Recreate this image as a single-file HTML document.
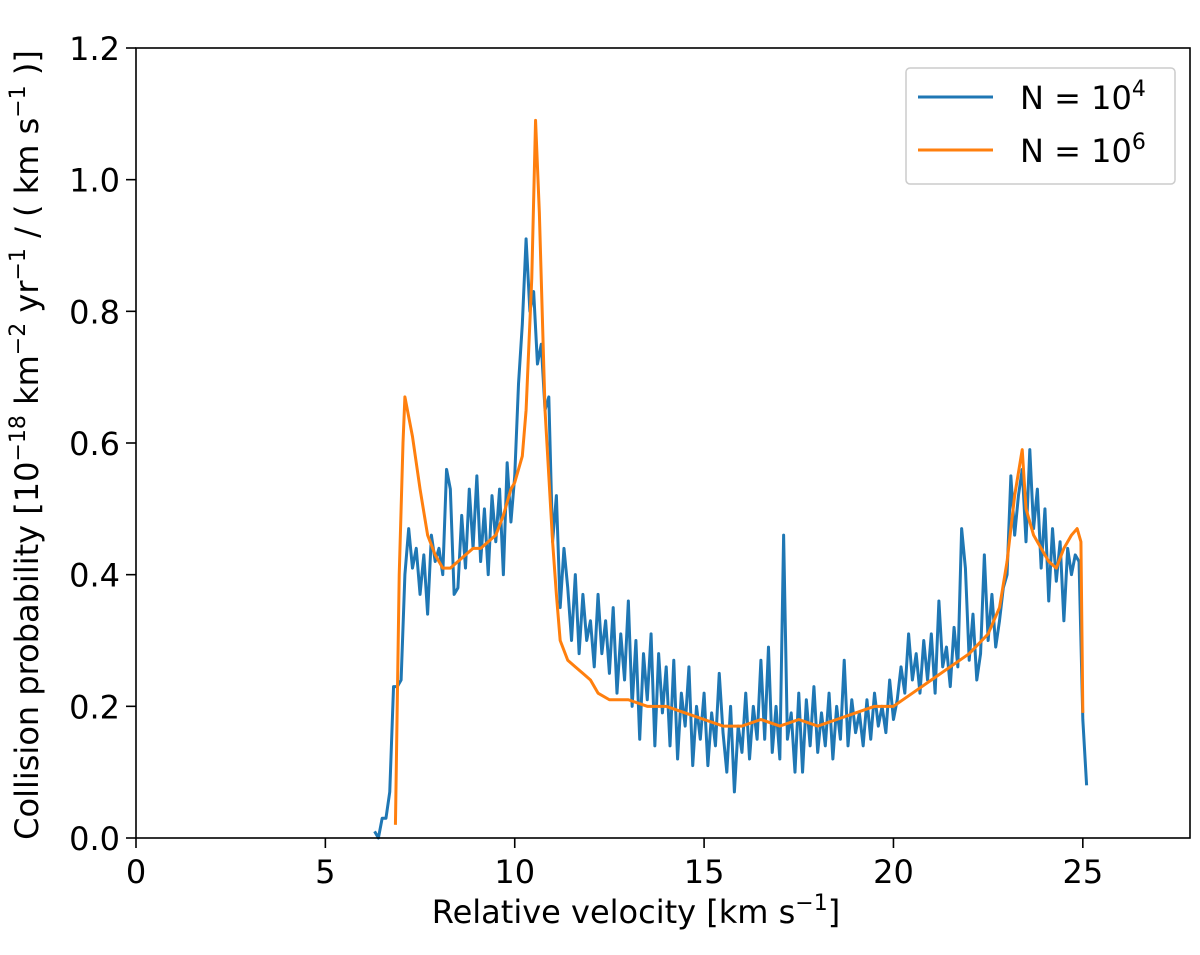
<!DOCTYPE html>
<html><head><meta charset="utf-8"><style>
body{margin:0;background:#fff;}
svg text{font-family:"DejaVu Sans","Liberation Sans",sans-serif;fill:#000;}
</style></head><body>
<svg id="chart" width="1200" height="950" viewBox="0 0 1200 950" xmlns="http://www.w3.org/2000/svg">
<g id="plot"></g>
</svg>
<script>
const xTicks=[0,5,10,15,20,25];
const yTicks=[0.0,0.2,0.4,0.6,0.8,1.0,1.2];
const yTickLabels=["0.0","0.2","0.4","0.6","0.8","1.0","1.2"];
const blueStart=6.3, blueStep=0.1;
const blueValues=[0.01,0.0,0.03,0.03,0.07,0.23,0.23,0.24,0.40,0.47,0.41,0.44,0.37,0.43,0.34,0.46,0.42,0.44,0.40,0.56,0.53,0.37,0.38,0.49,0.41,0.53,0.44,0.55,0.42,0.50,0.40,0.52,0.45,0.53,0.40,0.57,0.48,0.55,0.69,0.78,0.91,0.80,0.83,0.72,0.75,0.65,0.67,0.45,0.52,0.35,0.44,0.38,0.30,0.40,0.28,0.37,0.30,0.33,0.26,0.37,0.28,0.33,0.25,0.35,0.22,0.31,0.24,0.36,0.20,0.30,0.15,0.28,0.21,0.31,0.14,0.28,0.19,0.26,0.14,0.27,0.12,0.22,0.17,0.26,0.11,0.20,0.15,0.22,0.11,0.19,0.14,0.25,0.16,0.10,0.20,0.07,0.17,0.13,0.22,0.12,0.20,0.15,0.27,0.15,0.29,0.13,0.20,0.12,0.46,0.15,0.19,0.10,0.22,0.10,0.21,0.14,0.23,0.13,0.19,0.14,0.22,0.12,0.20,0.15,0.27,0.14,0.21,0.16,0.19,0.14,0.21,0.15,0.22,0.17,0.20,0.16,0.24,0.18,0.21,0.26,0.22,0.31,0.24,0.28,0.22,0.30,0.24,0.31,0.22,0.36,0.26,0.29,0.23,0.32,0.26,0.47,0.41,0.27,0.34,0.24,0.28,0.43,0.30,0.37,0.29,0.33,0.38,0.40,0.55,0.46,0.52,0.56,0.45,0.59,0.47,0.53,0.41,0.50,0.36,0.47,0.39,0.45,0.33,0.44,0.40,0.43,0.42,0.18,0.08];
const orangeX=[6.85,6.95,7.05,7.1,7.3,7.5,7.7,7.9,8.1,8.3,8.5,8.7,8.9,9.1,9.3,9.5,9.7,9.9,10.0,10.2,10.3,10.45,10.55,10.65,10.8,10.9,11.0,11.1,11.2,11.4,11.6,11.8,12.0,12.2,12.5,13,13.5,14,14.5,15,15.5,16,16.5,17,17.5,18,18.5,19,19.5,20,20.5,21,21.5,22,22.5,22.8,23.0,23.2,23.4,23.5,23.7,23.9,24.1,24.3,24.5,24.7,24.85,24.95,25.0];
const orangeValues=[0.02,0.40,0.60,0.67,0.61,0.53,0.46,0.43,0.41,0.41,0.42,0.43,0.44,0.44,0.45,0.46,0.49,0.53,0.54,0.58,0.65,0.85,1.09,0.95,0.65,0.55,0.45,0.37,0.30,0.27,0.26,0.25,0.24,0.22,0.21,0.21,0.20,0.20,0.19,0.18,0.17,0.17,0.18,0.17,0.18,0.17,0.18,0.19,0.20,0.20,0.22,0.24,0.26,0.28,0.31,0.35,0.42,0.52,0.59,0.50,0.46,0.44,0.42,0.41,0.44,0.46,0.47,0.45,0.19];

const L=136,R=1190,T=48,B=838;
const xMin=0,xMax=27.83,yMin=0,yMax=1.2;
function sx(v){return L+(v-xMin)/(xMax-xMin)*(R-L);}
function sy(v){return B-(v-yMin)/(yMax-yMin)*(B-T);}
const NS="http://www.w3.org/2000/svg";
const g=document.getElementById('plot');
function mk(tag,attrs,parent){const e=document.createElementNS(NS,tag);for(const k in attrs)e.setAttribute(k,attrs[k]);(parent||g).appendChild(e);return e;}

// series
let d=blueValues.map((v,i)=>(i?'L':'M')+sx(blueStart+i*blueStep).toFixed(2)+','+sy(v).toFixed(2)).join('');
const blue=mk('path',{d:d,fill:'none',stroke:'#1f77b4','stroke-width':3,'stroke-linejoin':'round'});


d=orangeValues.map((v,i)=>(i?'L':'M')+sx(orangeX[i]).toFixed(2)+','+sy(v).toFixed(2)).join('');
const orange=mk('path',{d:d,fill:'none',stroke:'#ff7f0e','stroke-width':3,'stroke-linejoin':'round'});



// frame
const frame=mk('rect',{x:L,y:T,width:R-L,height:B-T,fill:'none',stroke:'#000','stroke-width':1.6});



xTicks.forEach(t=>{
  const x=sx(t);
  const tk=mk('line',{x1:x,x2:x,y1:B,y2:B+10,stroke:'#000','stroke-width':1.6});
  
  
  const tx=mk('text',{x:x,y:B+45,'text-anchor':'middle','font-size':32});
  tx.textContent=String(t);
  
  
});
yTicks.forEach((t,i)=>{
  const y=sy(t);
  const tk=mk('line',{x1:L-10,x2:L,y1:y,y2:y,stroke:'#000','stroke-width':1.6});
  
  
  const tx=mk('text',{x:L-16,y:y+12,'text-anchor':'end','font-size':32});
  tx.textContent=yTickLabels[i];
  
  
});
</script>
<svg style="position:absolute;left:0;top:0" width="1200" height="950">
<text x="636" y="923" text-anchor="middle" font-size="32" font-family="DejaVu Sans, Liberation Sans, sans-serif">Relative velocity [km s<tspan dy="-13" font-size="22">−1</tspan><tspan dy="13">]</tspan></text>
<text transform="translate(38,445) rotate(-90)" text-anchor="middle" font-size="32" font-family="DejaVu Sans, Liberation Sans, sans-serif">Collision probability [10<tspan dy="-13" font-size="22">−18</tspan><tspan dy="13"> km</tspan><tspan dy="-13" font-size="22">−2</tspan><tspan dy="13"> yr</tspan><tspan dy="-13" font-size="22">−1</tspan><tspan dy="13"> / ( km s</tspan><tspan dy="-13" font-size="22">−1</tspan><tspan dy="13"> )]</tspan></text>
<g>
<rect x="906" y="68" width="269" height="116" rx="4" fill="#fff" stroke="#ccc" stroke-width="1.5"/>
<line x1="918" x2="993" y1="97" y2="97" stroke="#1f77b4" stroke-width="3"/>
<text x="1020" y="109" font-size="32" font-family="DejaVu Sans, Liberation Sans, sans-serif">N = 10<tspan dy="-13" font-size="22">4</tspan></text>
<line x1="918" x2="993" y1="150" y2="150" stroke="#ff7f0e" stroke-width="3"/>
<text x="1020" y="162" font-size="32" font-family="DejaVu Sans, Liberation Sans, sans-serif">N = 10<tspan dy="-13" font-size="22">6</tspan></text>
</g>
</svg>
</body></html>
